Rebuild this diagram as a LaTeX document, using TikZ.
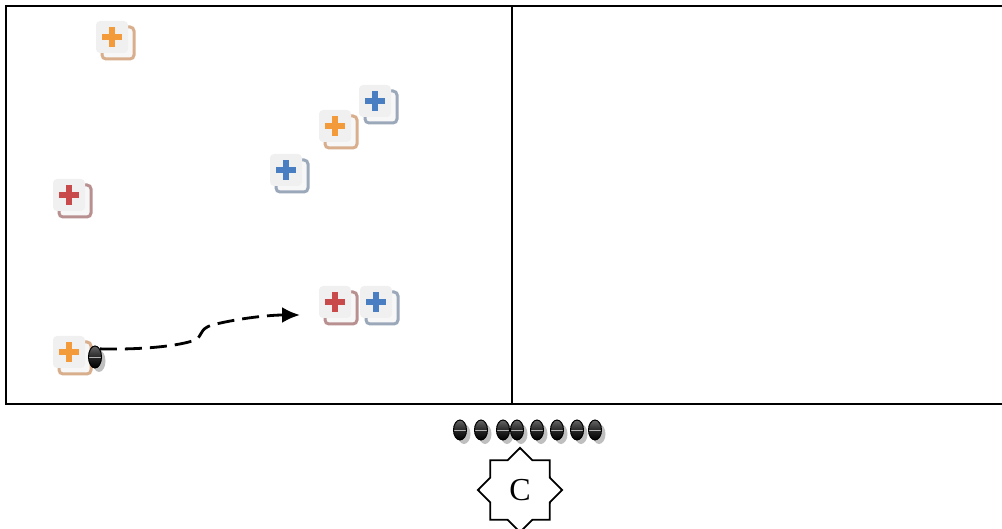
\documentclass[tikz,border=0pt]{standalone}
\usepackage{fontspec}
\setmainfont{Liberation Serif}
\usetikzlibrary{shapes.geometric,arrows.meta,shadows}

\definecolor{plusorange}{HTML}{F39A3A}
\definecolor{plusred}{HTML}{C84A4A}
\definecolor{plusblue}{HTML}{4A7EC2}
\definecolor{umbraorange}{HTML}{D8AE8C}
\definecolor{umbrared}{HTML}{B89090}
\definecolor{umbrablue}{HTML}{9AA8BA}

\tikzset{
  icon/.style 2 args={draw=none, fill=gray!12, minimum size=32pt, inner sep=0pt,
    rounded corners=4pt,
    copy shadow={shadow xshift=6pt, shadow yshift=-6pt, fill=gray!6, draw=#2, line width=3pt},
    path picture={
      \draw[#1, line width=6pt]
        ([xshift=-10pt]path picture bounding box.center) -- ([xshift=10pt]path picture bounding box.center)
        ([yshift=-10pt]path picture bounding box.center) -- ([yshift=10pt]path picture bounding box.center);
    }},
  token/.style={ellipse, draw=black, line width=1pt, minimum width=13pt, minimum height=20pt,
    inner sep=0pt, top color=gray!80!black, bottom color=black, middle color=black!85,
    drop shadow={shadow xshift=4pt, shadow yshift=-4pt, opacity=0.5},
    path picture={
      \draw[gray!60, line width=0.8pt]
        (path picture bounding box.west) -- (path picture bounding box.east);
    }},
  traseu/.style={line width=2.8pt, dash pattern=on 17pt off 8pt, -{Latex[length=18pt,width=16pt]}}
}

\begin{document}
\begin{tikzpicture}[x=1pt, y=-1pt]
  \useasboundingbox (0,0) rectangle (1002,529);

  % zonele
  \draw[line width=2pt] (6,6) rectangle (512,404);
  \draw[line width=2pt] (512,6) -- (1004,6) (512,404) -- (1004,404);

  % iconițe
  \node[icon={plusorange}{umbraorange}] (o1) at (112,37) {};
  \node[icon={plusblue}{umbrablue}]     (b1) at (375,101) {};
  \node[icon={plusorange}{umbraorange}] (o2) at (335,126) {};
  \node[icon={plusblue}{umbrablue}]     (b2) at (286,170) {};
  \node[icon={plusred}{umbrared}]       (r1) at (69,195) {};
  \node[icon={plusred}{umbrared}]       (r2) at (335,302) {};
  \node[icon={plusblue}{umbrablue}]     (b3) at (376,302) {};
  \node[icon={plusorange}{umbraorange}] (o3) at (69,352) {};

  % jetoane
  \node[token, minimum height=22pt] (t0) at (95,357) {};
  \foreach \x [count=\i] in {460,481,503,517,537,557,577,595}
    \node[token] (t\i) at (\x,430) {};

  % stea
  \node[star, star points=8, star point ratio=1.3, draw, fill=white, line width=1.8pt,
        minimum size=84pt, inner sep=0pt, font=\fontsize{32}{34}\selectfont] (c) at (520,490) {C};

  % traseu
  \coordinate (tinta) at (300,315);
  \draw[traseu] (t0.north east) .. controls (140,350) and (180,346) .. (195,340)
    .. controls (203,336) and (199,329) .. (212,325)
    .. controls (240,318) and (270,315) .. (tinta);
\end{tikzpicture}
\end{document}
